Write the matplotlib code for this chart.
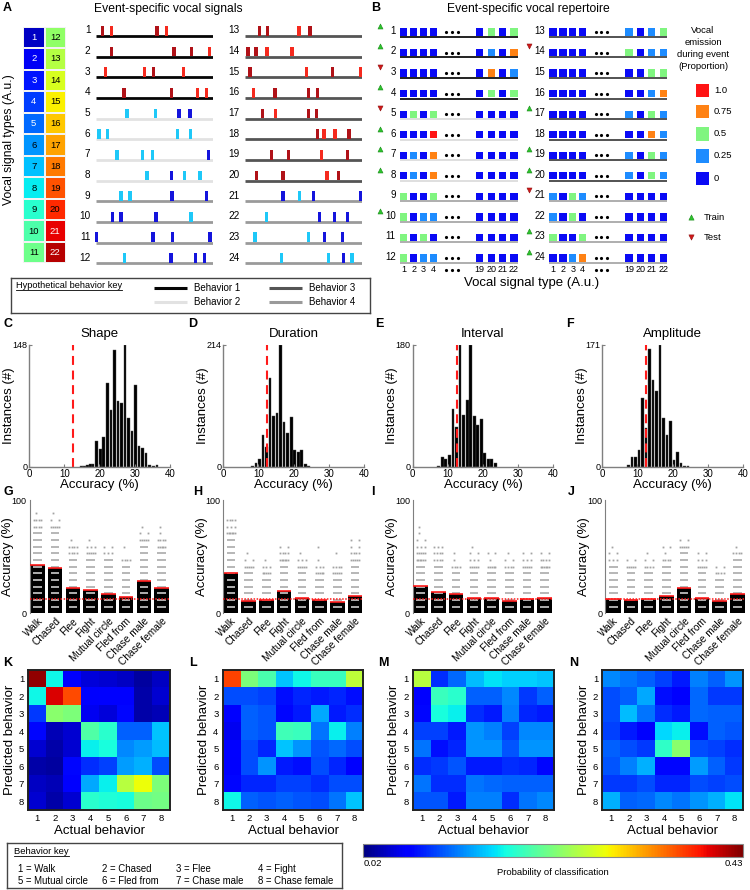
import numpy as np
import matplotlib
matplotlib.use("Agg")
import matplotlib.pyplot as plt
from matplotlib.lines import Line2D
from matplotlib.colors import ListedColormap, Normalize
from matplotlib.cm import ScalarMappable

plt.rcParams['font.family'] = ['Liberation Sans', 'DejaVu Sans']

# ======================= DATA =======================
# ---- Panel A: event-specific vocal signals ----
vocal_signal_types = list(range(1, 23))
event_behavior = [1, 1, 1, 1, 2, 2, 2, 2, 4, 4, 4, 4,
                  3, 3, 3, 3, 3, 3, 3, 3, 4, 4, 4, 4]
# time of each vocal signal within the event (% of event duration)
signal_times = [
    [5.7, 13.4, 52.0, 60.0], [13.4, 66.6, 81.7, 96.9], [8.0, 41.7, 49.4, 74.6],
    [24.0, 64.3, 86.9, 94.6], [26.6, 50.9, 71.1, 80.3], [2.6, 10.0, 69.4, 80.9],
    [18.0, 40.0, 48.3, 96.3], [43.7, 64.3, 75.7, 88.9], [21.4, 28.9, 64.9, 94.6],
    [14.3, 21.4, 51.4, 81.1], [0.6, 48.6, 65.4, 97.4], [24.6, 64.0, 84.9, 92.6],
    [12.5, 19.3, 46.0, 55.4], [2.6, 9.4, 18.8, 40.1], [4.3, 52.3, 74.7, 98.3],
    [7.1, 25.6, 54.3, 61.6], [14.8, 25.9, 54.3, 60.8], [61.9, 67.3, 76.7, 88.6],
    [22.4, 37.2, 65.1, 87.5], [9.7, 32.4, 69.9, 79.8], [32.4, 46.3, 58.5, 98.3],
    [18.5, 63.6, 76.1, 87.5], [8.5, 54.0, 67.6, 83.2], [31.0, 71.0, 83.8, 91.2],
]
# signal kind: D = dark red, R = red, C = cyan, B = blue
signal_kinds = ['DRDR', 'DDDR', 'RRDR', 'DDRR', 'CCBB', 'CCCC', 'CCCB', 'CBCC',
                'CCBB', 'BBBC', 'BBBB', 'CBBB', 'DDRD', 'DDRR', 'DRDR', 'RDDD',
                'DRDD', 'DRRD', 'DDRD', 'DDRD', 'BCBB', 'CBBB', 'CCBB', 'CCBC']
behavior_names = ['Behavior 1', 'Behavior 2', 'Behavior 3', 'Behavior 4']

# ---- Panel B: event-specific vocal repertoire ----
repertoire_types = ['1', '2', '3', '4', '19', '20', '21', '22']
repertoire = [
    [0, 0, 0, 0, 0, 0.5, 0, 0.5], [0, 0, 0, 0, 0, 0.25, 0, 0.75],
    [0, 0, 0, 0, 0, 0.75, 0, 0.25], [0, 0, 0, 0, 0, 0.5, 0, 0.5],
    [0, 0.5, 0, 0.5, 0, 0, 0, 0], [0, 0, 0, 1.0, 0, 0, 0, 0],
    [0, 0.25, 0, 0.75, 0, 0, 0, 0], [0, 0.25, 0, 0.75, 0, 0, 0, 0],
    [0.5, 0, 0, 0.5, 0, 0, 0, 0], [0.5, 0, 0.25, 0.25, 0, 0, 0, 0],
    [0.5, 0, 0.5, 0, 0, 0, 0, 0], [0.5, 0, 0.25, 0.25, 0, 0, 0, 0],
    [0, 0, 0, 0, 0.25, 0, 0.25, 0.5], [0, 0, 0, 0, 0.5, 0, 0.25, 0.25],
    [0, 0, 0, 0, 0, 0, 0.5, 0.5], [0, 0, 0, 0, 0, 0, 0.25, 0.75],
    [0, 0, 0, 0, 0.25, 0, 0.5, 0.25], [0, 0, 0, 0, 0, 0, 0.75, 0.25],
    [0, 0, 0, 0, 0.25, 0, 0.5, 0.25], [0, 0, 0, 0, 0.25, 0, 0.5, 0.25],
    [0.25, 0, 0.5, 0.25, 0, 0, 0, 0], [0.25, 0, 0.5, 0, 0, 0, 0, 0],
    [0.5, 0, 0, 0.5, 0, 0, 0, 0], [0, 0, 0.25, 0.75, 0, 0, 0, 0],
]
train_events = [1, 2, 4, 6, 7, 8, 10, 17, 19, 20, 23, 24]
test_events = [3, 5, 14, 21]
proportion_levels = [1.0, 0.75, 0.5, 0.25, 0]
proportion_labels = ['1.0', '0.75', '0.5', '0.25', '0']

# ---- Panels C-F: accuracy histograms ----
feature_names = ['Shape', 'Duration', 'Interval', 'Amplitude']
shape_bins = [14.8, 15.7, 16.6, 17.4, 18.2, 19.2, 20.2, 21.2, 22.3, 23.3, 24.3, 25.3,
              26.3, 27.3, 28.3, 29.3, 30.3, 31.3, 32.3, 33.3, 34.3, 35.3, 36.4]
shape_counts = [1, 1, 2, 3, 3, 31, 22, 36, 102, 69, 142, 80, 77, 148, 59, 43, 99,
                25, 23, 17, 2, 1, 2]
duration_bins = [8.3, 9.3, 10.3, 11.3, 12.3, 13.3, 14.3, 15.3, 16.3, 17.3, 18.3,
                 19.3, 20.3, 21.3, 22.3, 23.3, 24.3]
duration_counts = [2, 7, 13, 55, 35, 156, 89, 95, 214, 79, 60, 87, 30, 25, 29, 4, 1]
interval_bins = [7.3, 8.4, 9.4, 10.4, 11.5, 12.5, 13.5, 14.5, 15.5, 16.5, 17.5,
                 18.5, 19.5, 20.5, 21.5, 22.5, 23.5]
interval_counts = [1, 14, 12, 18, 85, 58, 180, 76, 98, 180, 75, 61, 70, 21, 12, 12, 5]
amplitude_bins = [7.4, 8.5, 9.5, 10.5, 11.5, 12.4, 13.4, 14.4, 15.4, 16.4, 17.4,
                  18.4, 19.4, 20.4, 21.4, 22.4, 23.4, 24.4]
amplitude_counts = [3, 14, 13, 23, 97, 55, 166, 122, 106, 171, 68, 45, 64, 9, 20, 5, 1, 1]
chance_level = 12.5

# ---- Panels G-J: per-behavior accuracy ----
behaviors = ['Walk', 'Chased', 'Flee', 'Fight', 'Mutual circle', 'Fled from',
             'Chase male', 'Chase female']
acc_shape = [42.6, 39.7, 22.6, 20.3, 17.4, 14.1, 28.2, 22.4]
acc_duration = [35.3, 10.9, 11.8, 19.7, 13.8, 11.8, 10.3, 15.0]
acc_interval = [24.1, 18.8, 16.8, 13.2, 13.2, 11.2, 12.4, 13.5]
acc_amplitude = [13.0, 11.6, 12.8, 15.4, 22.0, 13.6, 10.7, 16.6]
# discrete accuracy levels (k / 17) of individual runs: dense levels, then sparse counts
acc_step = 100 / 17
dense_shape = [12, 12, 8, 8, 8, 7, 10, 9]
sparse_shape = [[4, 4, 1], [5, 2, 1], [4, 4, 1], [5, 3, 1], [3, 2], [4, 0, 1],
                [5, 2, 1], [5, 4, 1, 1]]
dense_duration = [11, 6, 5, 7, 6, 5, 5, 7]
sparse_duration = [[6, 3, 4], [5, 2, 1], [5, 3, 1], [6, 4, 2], [5, 3, 1],
                   [5, 3, 1, 0, 1], [5, 4, 0, 1], [5, 4, 2, 2]]
dense_interval = [7, 7, 6, 6, 6, 6, 6, 6]
sparse_interval = [[6, 5, 3, 2, 1, 1], [4, 4, 3], [4, 1, 1], [5, 3, 2, 1], [5, 1, 2],
                   [4, 2, 1], [5, 3, 2], [6, 4, 2]]
dense_amplitude = [7, 6, 6, 7, 9, 6, 5, 8]
sparse_amplitude = [[3, 2, 1], [5, 2], [4, 2, 1], [4, 1, 2], [5, 2], [5, 3, 2],
                    [4, 2], [4, 1]]

# ---- Panels K-N: confusion matrices (rows = predicted, cols = actual) ----
conf_shape = [
    [0.422, 0.172, 0.069, 0.053, 0.049, 0.045, 0.032, 0.045],
    [0.172, 0.397, 0.360, 0.065, 0.069, 0.069, 0.036, 0.049],
    [0.094, 0.233, 0.225, 0.061, 0.053, 0.073, 0.036, 0.040],
    [0.073, 0.040, 0.049, 0.204, 0.184, 0.110, 0.110, 0.151],
    [0.049, 0.036, 0.049, 0.168, 0.176, 0.127, 0.135, 0.147],
    [0.036, 0.032, 0.073, 0.090, 0.098, 0.135, 0.143, 0.102],
    [0.045, 0.040, 0.069, 0.139, 0.168, 0.254, 0.282, 0.225],
    [0.049, 0.036, 0.049, 0.184, 0.180, 0.176, 0.217, 0.221],
]
conf_duration = [
    [0.364, 0.225, 0.200, 0.151, 0.172, 0.192, 0.192, 0.258],
    [0.102, 0.102, 0.098, 0.077, 0.086, 0.082, 0.086, 0.077],
    [0.069, 0.110, 0.106, 0.073, 0.082, 0.139, 0.082, 0.090],
    [0.061, 0.110, 0.106, 0.196, 0.192, 0.118, 0.168, 0.123],
    [0.069, 0.102, 0.086, 0.151, 0.131, 0.106, 0.114, 0.102],
    [0.065, 0.102, 0.131, 0.082, 0.077, 0.102, 0.086, 0.069],
    [0.073, 0.086, 0.086, 0.098, 0.098, 0.090, 0.102, 0.102],
    [0.172, 0.110, 0.106, 0.110, 0.106, 0.102, 0.118, 0.151],
]
conf_interval = [
    [0.254, 0.090, 0.114, 0.147, 0.164, 0.155, 0.155, 0.151],
    [0.069, 0.192, 0.184, 0.110, 0.110, 0.127, 0.094, 0.110],
    [0.073, 0.176, 0.168, 0.090, 0.082, 0.123, 0.086, 0.082],
    [0.098, 0.098, 0.082, 0.131, 0.123, 0.098, 0.127, 0.127],
    [0.118, 0.077, 0.086, 0.131, 0.131, 0.106, 0.131, 0.131],
    [0.090, 0.094, 0.106, 0.082, 0.082, 0.090, 0.086, 0.073],
    [0.118, 0.090, 0.090, 0.118, 0.114, 0.110, 0.110, 0.110],
    [0.106, 0.106, 0.082, 0.123, 0.123, 0.090, 0.118, 0.127],
]
conf_amplitude = [
    [0.127, 0.118, 0.110, 0.098, 0.082, 0.123, 0.110, 0.131],
    [0.102, 0.110, 0.139, 0.077, 0.069, 0.114, 0.094, 0.094],
    [0.102, 0.147, 0.118, 0.090, 0.082, 0.114, 0.110, 0.110],
    [0.098, 0.082, 0.065, 0.159, 0.168, 0.077, 0.110, 0.106],
    [0.110, 0.102, 0.094, 0.188, 0.233, 0.102, 0.098, 0.090],
    [0.106, 0.123, 0.143, 0.073, 0.073, 0.135, 0.110, 0.094],
    [0.094, 0.094, 0.102, 0.086, 0.086, 0.102, 0.098, 0.102],
    [0.143, 0.110, 0.114, 0.127, 0.118, 0.131, 0.143, 0.164],
]
prob_min, prob_max = 0.02, 0.43
behavior_key = ['1 = Walk', '2 = Chased', '3 = Flee', '4 = Fight',
                '5 = Mutual circle', '6 = Fled from', '7 = Chase male', '8 = Chase female']

# ======================= LAYOUT HELPERS =======================
W, H = 750, 890
fig = plt.figure(figsize=(W / 100, H / 100), dpi=100)


def box(x0, y0, x1, y1):
    return [x0 / W, 1 - y1 / H, (x1 - x0) / W, (y1 - y0) / H]


def fx(x):
    return x / W


def fy(y):
    return 1 - y / H


def panel_label(x, y, s):
    fig.text(fx(x), fy(y), s, fontsize=9, fontweight='bold', ha='left', va='top')


underlined = []

# ======================= PANEL A =======================
panel_label(3, 2, 'A')
fig.text(fx(168), fy(9), 'Event-specific vocal signals', fontsize=8.7, ha='center', va='center')
fig.text(fx(9), fy(140), 'Vocal signal types (A.u.)', fontsize=8.7, rotation=90,
         ha='center', va='center')

jet = plt.get_cmap('jet')
type_cmap = ListedColormap([jet(0.06 + 0.89 * i / 21) for i in range(22)])
axg = fig.add_axes(box(23, 26.7, 66, 263.3))
grid = np.array(vocal_signal_types).reshape(2, 11).T
axg.pcolormesh(grid, cmap=type_cmap, vmin=0.5, vmax=22.5, edgecolors='#f2f2f2', linewidth=1.2)
axg.set_ylim(11, 0)
axg.axis('off')
for (i, j), v in np.ndenumerate(grid):
    axg.text(j + 0.5, i + 0.5, str(v), ha='center', va='center', fontsize=6.8,
             color='white' if (v <= 5 or v >= 21) else 'black')

tick_colors = {'D': '#b01218', 'R': '#f52a1e', 'C': '#1ec8f8', 'B': '#1414dc'}
beh_col_A = {1: '#050505', 2: '#e2e2e2', 3: '#555555', 4: '#9a9a9a'}
for x0, x1, ids in [(96, 213, range(1, 13)), (245, 362.3, range(13, 25))]:
    ax = fig.add_axes(box(x0, 25.67, x1, 273.6))
    ax.set_xlim(0, 100)
    ax.set_ylim(12.5, 0.5)
    ax.axis('off')
    for r, ev in enumerate(ids, start=1):
        ax.hlines(r, 0, 100, color=beh_col_A[event_behavior[ev - 1]], lw=2.0, zorder=1)
        ax.bar(signal_times[ev - 1], -0.47, bottom=r - 0.02, width=2.9,
               color=[tick_colors[k] for k in signal_kinds[ev - 1]],
               edgecolor='#ffb0b0', linewidth=0.0, clip_on=False, zorder=2)
        ax.text(-4.7, r - 0.27, str(ev), ha='right', va='center', fontsize=7.2)

# key box
axk = fig.add_axes(box(11, 278.3, 370, 312.7))
axk.set_xlim(11, 370)
axk.set_ylim(312.7, 278.3)
axk.set_xticks([])
axk.set_yticks([])
for s in axk.spines.values():
    s.set_color('#444444')
    s.set_linewidth(1.0)
t = axk.text(16, 286, 'Hypothetical behavior key', fontsize=6.7, ha='left', va='center')
underlined.append(t)
key_pos = [(154, 287.7), (154, 301.7), (269.3, 287.7), (269.3, 301.7)]
for b, (kx, ky) in enumerate(key_pos, start=1):
    axk.plot([kx, kx + 33], [ky, ky], color=beh_col_A[b], lw=2.2, solid_capstyle='butt')
    axk.text(kx + 40, ky, behavior_names[b - 1], fontsize=7, ha='left', va='center')

# ======================= PANEL B =======================
panel_label(371, 2, 'B')
fig.text(fx(528), fy(9), 'Event-specific vocal repertoire', fontsize=8.7, ha='center', va='center')
prop_colors = {0: '#0a0af5', 0.25: '#1e8cff', 0.5: '#80f580', 0.75: '#ff8214', 1.0: '#ff1414'}
beh_col_B = {1: '#111111', 2: '#dcdcdc', 3: '#444444', 4: '#a8a8a8'}
slot_x = [0, 10, 19.7, 29.7, 76, 87.5, 98.5, 110.2]
dot_x = [42.5, 48.2, 53.8]
for x0, ids in [(403.7, range(1, 13)), (553, range(13, 25))]:
    ax = fig.add_axes(box(x0 - 3.7, 21.7, x0 + 114, 268.3))
    ax.set_xlim(-3.7, 114)
    ax.set_ylim(12.5, 0.5)
    ax.axis('off')
    for r, ev in enumerate(ids, start=1):
        vals = repertoire[ev - 1]
        ax.bar(slot_x, 0.35, bottom=r - 0.175, width=7.3,
               color=[prop_colors[v] for v in vals], zorder=2)
        ax.scatter(dot_x, [r] * 3, s=1.6, color='black', zorder=2)
        ax.hlines(r + 0.24, -3.7, 114, color=beh_col_B[event_behavior[ev - 1]], lw=1.3)
        ax.text(-8, r - 0.05, str(ev), ha='right', va='center', fontsize=7, clip_on=False)
        if ev in train_events:
            ax.scatter([-24], [r - 0.3], marker='^', s=13, color='#2cc42c',
                       edgecolors='#1a8a1a', linewidths=0.4, clip_on=False)
        if ev in test_events:
            ax.scatter([-24], [r - 0.3], marker='v', s=13, color='#d01818',
                       edgecolors='#901010', linewidths=0.4, clip_on=False)
    for sx, lab in zip(slot_x, repertoire_types):
        ax.text(sx, 12.56, lab, ha='center', va='center', fontsize=6.5, clip_on=False)
    ax.scatter(dot_x, [12.58] * 3, s=1.6, color='black', clip_on=False)
fig.text(fx(532), fy(283), 'Vocal signal type (A.u.)', fontsize=9.5, ha='center', va='center')

for i, line in enumerate(['Vocal', 'emission', 'during event', '(Proportion)']):
    fig.text(fx(703), fy(30.7 + 11.8 * i), line, fontsize=6.8, ha='center', va='center')
axl = fig.add_axes(box(688, 80, 748, 245))
axl.set_xlim(688, 748)
axl.set_ylim(245, 80)
axl.axis('off')
leg_y = [90.7, 111.7, 133.7, 156, 178.3]
for lvl, lab, y in zip(proportion_levels, proportion_labels, leg_y):
    axl.bar([702.5], [13.6], bottom=y - 6.8, width=13.6, color=prop_colors[lvl])
    axl.text(714, y, lab, fontsize=6.8, ha='left', va='center')
axl.scatter([691], [217], marker='^', s=14, color='#2cc42c', edgecolors='#1a8a1a', linewidths=0.4)
axl.scatter([691], [237], marker='v', s=14, color='#d01818', edgecolors='#901010', linewidths=0.4)
axl.text(704, 217, 'Train', fontsize=6.8, ha='left', va='center')
axl.text(704, 237, 'Test', fontsize=6.8, ha='left', va='center')

# ======================= PANELS C-F =======================
hist_data = [(shape_bins, shape_counts), (duration_bins, duration_counts),
             (interval_bins, interval_counts), (amplitude_bins, amplitude_counts)]
hist_x = [(29.3, 169.7), (223.3, 364), (412.7, 553.3), (602.3, 742.7)]
hist_letters = [('C', 3), ('D', 188), ('E', 375), ('F', 566)]
for (bins, counts), (x0, x1), name, (let, lx) in zip(hist_data, hist_x, feature_names, hist_letters):
    panel_label(lx, 318, let)
    ax = fig.add_axes(box(x0, 345, x1, 466.7))
    ax.bar(bins, counts, width=0.75, color='black', edgecolor='#4d4d4d', linewidth=0.3)
    ax.axvline(chance_level, color='#ff1a1a', lw=1.5, dashes=(4.3, 2.7))
    ax.set_xlim(0, 40)
    ax.set_ylim(0, max(counts))
    ax.set_xticks([0, 10, 20, 30, 40])
    ax.set_yticks([0, max(counts)])
    for s in ['top', 'right']:
        ax.spines[s].set_visible(False)
    for s in ['left', 'bottom']:
        ax.spines[s].set_color('#7f7f7f')
        ax.spines[s].set_linewidth(1.0)
    ax.tick_params(direction='in', length=2, width=0.8, colors='#7f7f7f',
                   labelcolor='black', pad=1.5)
    ax.tick_params(axis='x', labelsize=7)
    ax.tick_params(axis='y', labelsize=6.5)
    ax.set_xlabel('Accuracy (%)', fontsize=9.5, labelpad=0)
    ax.set_ylabel('Instances (#)', fontsize=9.5, labelpad=-2)
    fig.text(fx((x0 + x1) / 2), fy(334), name, fontsize=9.5, ha='center', va='center')

# ======================= PANELS G-J =======================
acc_data = [(acc_shape, dense_shape, sparse_shape),
            (acc_duration, dense_duration, sparse_duration),
            (acc_interval, dense_interval, sparse_interval),
            (acc_amplitude, dense_amplitude, sparse_amplitude)]
acc_x = [(29.5, 169.5), (223, 363), (412.7, 552.7), (605.3, 745.3)]
acc_letters = [('G', 4), ('H', 193), ('I', 371), ('J', 568)]
for (means, dense, sparse), (x0, x1), (let, lx) in zip(acc_data, acc_x, acc_letters):
    panel_label(lx, 486, let)
    ax = fig.add_axes(box(x0, 500, x1, 613.3))
    xs = np.arange(len(behaviors))
    ax.bar(xs, means, width=0.82, color='black', zorder=1)
    for i in range(len(behaviors)):
        for k in range(1, dense[i] + 1):
            y = k * acc_step
            c = '#dedede' if y < means[i] else '#a3a3a3'
            ax.hlines(y, i - 0.24, i + 0.24, color=c, lw=1.1, zorder=2)
        for j, n in enumerate(sparse[i]):
            if n == 0:
                continue
            y = (dense[i] + 1 + j) * acc_step
            px = i + (np.linspace(-0.22, 0.22, n) if n > 1 else np.array([-0.1]))
            c = '#dedede' if y < means[i] else '#a3a3a3'
            ax.plot(px, [y] * n, 's', ms=1.3, mew=0, color=c, zorder=2)
    ax.hlines(means, xs - 0.41, xs + 0.41, color='#ff1a1a', lw=1.2, zorder=3)
    ax.axhline(chance_level, color='#ff1a1a', lw=1.1, dashes=(1, 1), zorder=4)
    ax.set_xlim(-0.45, 7.45)
    ax.set_ylim(0, 100)
    ax.set_yticks([0, 100])
    ax.set_xticks(xs)
    ax.set_xticklabels(behaviors, rotation=45, ha='right', rotation_mode='anchor', fontsize=7.3)
    for s in ['top', 'right', 'bottom']:
        ax.spines[s].set_visible(False)
    ax.spines['left'].set_color('#7f7f7f')
    ax.tick_params(axis='x', length=0, pad=2)
    ax.tick_params(axis='y', length=0, labelsize=6.5, pad=2)
    ax.set_ylabel('Accuracy (%)', fontsize=9.5, labelpad=-2)

# ======================= PANELS K-N =======================
conf_data = [conf_shape, conf_duration, conf_interval, conf_amplitude]
conf_x = [(28.3, 170), (222.7, 363.3), (412.7, 554.3), (602.3, 743.3)]
conf_letters = [('K', 3), ('L', 189), ('M', 378), ('N', 569)]
for mat, (x0, x1), (let, lx) in zip(conf_data, conf_x, conf_letters):
    panel_label(lx, 657, let)
    ax = fig.add_axes(box(x0, 670, x1, 810))
    ax.imshow(np.array(mat), cmap='jet', vmin=prob_min, vmax=prob_max, aspect='auto',
              extent=(0.5, 8.5, 8.5, 0.5), interpolation='nearest')
    ax.set_xticks(range(1, 9))
    ax.set_yticks(range(1, 9))
    ax.tick_params(length=0, labelsize=6.8, pad=3)
    for s in ax.spines.values():
        s.set_color('#222222')
        s.set_linewidth(1.4)
    ax.set_xlabel('Actual behavior', fontsize=9.5, labelpad=1)
    ax.set_ylabel('Predicted behavior', fontsize=9.5, labelpad=2)

cax = fig.add_axes(box(363.3, 844.3, 742.7, 856.7))
cb = fig.colorbar(ScalarMappable(norm=Normalize(prob_min, prob_max), cmap='jet'),
                  cax=cax, orientation='horizontal')
cb.set_ticks([])
cb.outline.set_edgecolor('#888888')
cb.outline.set_linewidth(0.8)
fig.text(fx(363.3), fy(863), f'{prob_min:.2f}', fontsize=6.8, ha='left', va='center')
fig.text(fx(742.7), fy(863), f'{prob_max:.2f}', fontsize=6.8, ha='right', va='center')
fig.text(fx(553), fy(872.5), 'Probability of classification', fontsize=6.8, ha='center', va='center')

axb = fig.add_axes(box(7, 843.3, 341.7, 888.3))
axb.set_xlim(7, 341.7)
axb.set_ylim(888.3, 843.3)
axb.set_xticks([])
axb.set_yticks([])
for s in axb.spines.values():
    s.set_color('#444444')
    s.set_linewidth(1.0)
t = axb.text(14, 852, 'Behavior key', fontsize=6.8, ha='left', va='center')
underlined.append(t)
key_cols = [18, 102, 176, 258]
for i, lab in enumerate(behavior_key):
    axb.text(key_cols[i % 4], 869 if i < 4 else 881, lab, fontsize=6.9, ha='left', va='center')

# underline the key headings
fig.canvas.draw()
renderer = fig.canvas.get_renderer()
for t in underlined:
    bb = t.get_window_extent(renderer)
    y = (bb.y0 + 0.5) / fig.bbox.height
    fig.add_artist(Line2D([bb.x0 / fig.bbox.width, bb.x1 / fig.bbox.width], [y, y],
                          transform=fig.transFigure, color='black', lw=0.6))

fig.savefig('out.png', dpi=100)
